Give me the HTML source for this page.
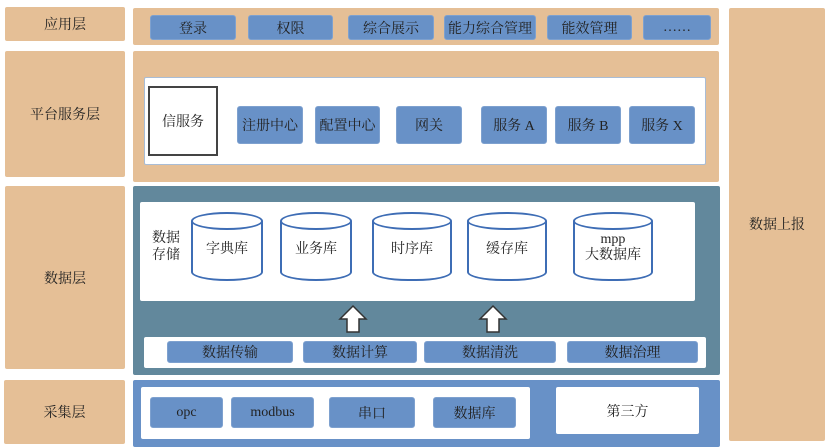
<!DOCTYPE html>
<html><head><meta charset="utf-8"><style>
body{margin:0;width:831px;height:447px;background:#fff;position:relative;overflow:hidden;font-family:"Liberation Serif","Noto Serif CJK SC",serif;color:#222}
div{position:absolute;box-sizing:border-box}
.t{display:flex;align-items:center;justify-content:center;text-align:center;font-size:14px}
.or{background:#e5bf96;border-radius:2px}
.b{background:#6891c7;border:1px solid #7ea1cf;border-radius:3px}
.w{background:#fff;border-radius:2px}
.cyl{border:2px solid #3e6db5;border-top:none;border-radius:0 0 36px 36px/0 0 9px 9px;background:#fff}
.cyl::before{content:"";position:absolute;left:-2px;right:-2px;top:-9px;height:18px;border:2px solid #3e6db5;border-radius:50%;box-sizing:border-box;background:#fff}
.cyl span{position:relative}
</style></head><body>
<div class="or t" style="left:5px;top:7px;width:120px;height:34px">应用层</div>
<div class="or t" style="left:5px;top:51px;width:120px;height:126px">平台服务层</div>
<div class="or t" style="left:5px;top:186px;width:120px;height:183px">数据层</div>
<div class="or t" style="left:4px;top:380px;width:121px;height:64px">采集层</div>
<div class="or t" style="left:729px;top:8px;width:96px;height:433px;padding-bottom:1px">数据上报</div>

<div class="or" style="left:133px;top:8px;width:586px;height:37px"></div>
<div class="b t" style="left:150px;top:15px;width:86px;height:25px">登录</div>
<div class="b t" style="left:248px;top:15px;width:85px;height:25px">权限</div>
<div class="b t" style="left:348px;top:15px;width:86px;height:25px">综合展示</div>
<div class="b t" style="left:444px;top:15px;width:92px;height:25px">能力综合管理</div>
<div class="b t" style="left:547px;top:15px;width:85px;height:25px">能效管理</div>
<div class="b t" style="left:643px;top:15px;width:68px;height:25px">……</div>

<div class="or" style="left:133px;top:51px;width:586px;height:131px"></div>
<div class="w" style="left:144px;top:77px;width:562px;height:88px;border:1px solid #a9bdd6"></div>
<div class="t" style="left:148px;top:86px;width:70px;height:70px;background:#fff;border:2px solid #444">信服务</div>
<div class="b t" style="left:237px;top:106px;width:66px;height:38px">注册中心</div>
<div class="b t" style="left:315px;top:106px;width:65px;height:38px">配置中心</div>
<div class="b t" style="left:396px;top:106px;width:66px;height:38px">网关</div>
<div class="b t" style="left:481px;top:106px;width:66px;height:38px">服务 A</div>
<div class="b t" style="left:555px;top:106px;width:66px;height:38px">服务 B</div>
<div class="b t" style="left:629px;top:106px;width:66px;height:38px">服务 X</div>

<div style="left:133px;top:186px;width:587px;height:189px;background:#62889c;border-radius:2px"></div>
<div class="w" style="left:140px;top:202px;width:555px;height:99px"></div>
<div class="t" style="left:148px;top:228px;width:36px;height:38px;line-height:17px">数据<br>存储</div>
<div class="cyl t" style="left:191px;top:221px;width:72px;height:60px;padding-bottom:4px"><span>字典库</span></div>
<div class="cyl t" style="left:280px;top:221px;width:72px;height:60px;padding-bottom:4px"><span>业务库</span></div>
<div class="cyl t" style="left:372px;top:221px;width:80px;height:60px;padding-bottom:4px"><span>时序库</span></div>
<div class="cyl t" style="left:467px;top:221px;width:80px;height:60px;padding-bottom:4px"><span>缓存库</span></div>
<div class="cyl t" style="left:573px;top:221px;width:80px;height:60px;padding-bottom:4px;line-height:16px"><span>mpp<br>大数据库</span></div>
<svg style="position:absolute;left:338px;top:304px" width="30" height="30"><polygon points="15,2 28,15 21,15 21,28 9,28 9,15 2,15" fill="#fff" stroke="#333" stroke-width="1.5"/></svg>
<svg style="position:absolute;left:478px;top:304px" width="30" height="30"><polygon points="15,2 28,15 21,15 21,28 9,28 9,15 2,15" fill="#fff" stroke="#333" stroke-width="1.5"/></svg>
<div class="w" style="left:144px;top:337px;width:562px;height:31px"></div>
<div class="b t" style="left:167px;top:341px;width:126px;height:22px">数据传输</div>
<div class="b t" style="left:303px;top:341px;width:114px;height:22px">数据计算</div>
<div class="b t" style="left:424px;top:341px;width:132px;height:22px">数据清洗</div>
<div class="b t" style="left:567px;top:341px;width:131px;height:22px">数据治理</div>

<div style="left:133px;top:380px;width:587px;height:67px;background:#6891c7;border-radius:2px"></div>
<div class="w" style="left:141px;top:387px;width:389px;height:52px"></div>
<div class="b t" style="left:150px;top:397px;width:73px;height:31px">opc</div>
<div class="b t" style="left:231px;top:397px;width:83px;height:31px">modbus</div>
<div class="b t" style="left:329px;top:397px;width:86px;height:31px">串口</div>
<div class="b t" style="left:433px;top:397px;width:83px;height:31px">数据库</div>
<div class="w t" style="left:556px;top:387px;width:143px;height:47px">第三方</div>
</body></html>
